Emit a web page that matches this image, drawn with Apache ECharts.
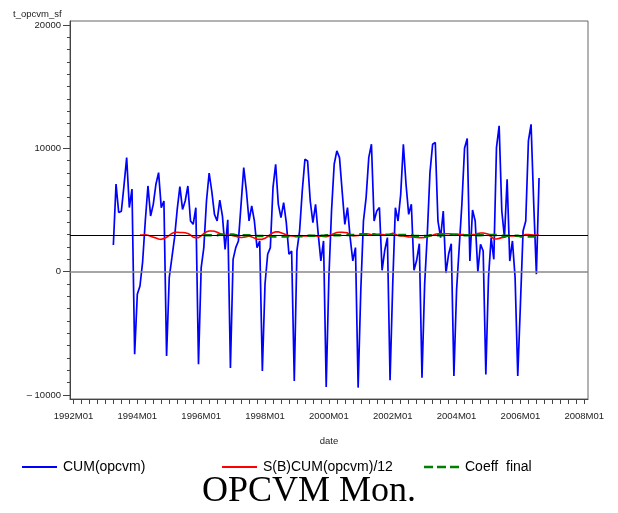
<!DOCTYPE html>
<html>
<head>
<meta charset="utf-8">
<script src="https://cdn.jsdelivr.net/npm/echarts@6/dist/echarts.min.js"></script>
<style>
html,body{margin:0;padding:0;background:#fff;}
#chart{width:618px;height:513px;}
</style>
</head>
<body>
<div id="chart"></div>
<script>
// ---- data (monthly) ----
const cumStart = '1993M04';
const cum1993 = [2160, 7100, 4800, 4900, 7000, 9250, 5200, 6700, -6700];
const cum1994 = [-1830, -1160, 800, 4110, 6950, 4510, 5460, 7090, 8030, 5190, 5730, -6830];
const cum1995 = [-490, 1130, 2760, 5050, 6900, 5050, 5730, 6950, 4110, 3840, 5190, -7510];
const cum1996 = [300, 1950, 5730, 8000, 6500, 4650, 4110, 5800, 4500, 1800, 4200, -7800];
const cum1997 = [1000, 1950, 2490, 5460, 8440, 6540, 4110, 5330, 4110, 1950, 2490, -8060];
const cum1998 = [-1000, 1410, 1950, 6810, 8710, 5460, 4380, 5600, 3980, 1410, 1680, -8860];
const cum1999 = [1700, 3300, 6540, 9110, 8980, 5730, 3980, 5460, 3030, 870, 2490, -9350];
const cum2000 = [-500, 4920, 8710, 9790, 9250, 6500, 3840, 5190, 2760, 870, 1950, -9400];
const cum2001 = [-1500, 4110, 6000, 9250, 10330, 4110, 4920, 5200, 110, 1730, 2760, -8810];
const cum2002 = [-1030, 5190, 4110, 6270, 10330, 7090, 4650, 5460, 110, 920, 2270, -8600];
const cum2003 = [-1030, 3030, 8030, 10330, 10470, 4110, 2760, 4920, -110, 1410, 2270, -8460];
const cum2004 = [-1500, 2000, 5500, 10000, 10800, 860, 5000, 4110, 0, 2220, 1680, -8330];
const cum2005 = [-480, 2760, 1000, 10060, 11820, 4920, 2760, 7490, 860, 2490, -480, -8460];
const cum2006 = [-2650, 3300, 4110, 10600, 11950, 5500, -200, 7600];

const sbStart = '1994M02';
const sbValues = [2970,2970,2990,2950,2880,2800,2730,2650,2620,2680,2790,2950,3100,3190,3200,3180,3170,3150,3100,2970,2800,2760,2760,2900,3080,3230,3300,3300,3280,3200,3100,3000,2950,2950,
2970,2920,2870,2800,2770,2790,2830,2890,2820,2720,2640,2620,2620,2700,2850,3030,3150,3230,3240,3160,3080,2990,2920,2890,2880,2900,2920,2900,2890,2900,2920,2900,2890,2880,2890,2850,2840,2900,3000,3100,3170,3190,3190,3180,3150,
2950,2920,2920,2930,2970,3030,3080,3050,3000,2970,2990,3020,3000,2980,2970,3030,3120,3030,2940,2900,2890,2860,2820,2810,2790,2770,2760,2760,2780,2830,2900,2960,3030,3080,3090,3080,3080,3070,3050,3030,3030,3030,3010,2990,2970,
2990,3000,3030,3100,3140,3140,3100,3030,2850,2650,2650,2700,2760,2800,2870,2900,2900,2900,2890,2860,2950,3010,3010,2990,2970,2960,2970];

const coeffStart = '1996M02';
const coeffValues = [2950,2950,2950,2950,2950,2950, 3010,3010,3010,3010,3010,3010, 2950,2950,2950,2950,2950,2950,
2900,2900,2900,2900,2900,2900,2900, 2850,2850,2850,2850,2850,2850,2850, 2870,2870,2870,2870,2870,2870,
2920,2920,2920,2920,2920,2920,2920,2920, 2960,2960,2960,2960,2960,2960, 2970,2970,2970,2970,2970,2970,
3030,3030,3030,3030,3030,3030,3030, 3000,3000,3000,3000,3000,3000,3000, 2970,2970,2970,2970,2970,2970,2970,
2890,2890,2890,2890,2890,2890, 2950,2950,2950,2950,2950,2950,2950, 3000,3000,3000,3000,3000,3000,
2950,2950,2950,2950,2950,2950,2950, 2970,2970,2970,2970,2970,2970,2970, 2920,2920,2920,2920,2920,2920,2920,
2860,2860,2860,2860,2860,2860,2860,2860];

const refLines = [0, 2980];
const xLabelMonths = ['1992M01','1994M01','1996M01','1998M01','2000M01','2002M01','2004M01','2006M01','2008M01'];
const yLabelValues = [-10000, 0, 10000, 20000];
const seriesNames = ['CUM(opcvm)', 'S(B)CUM(opcvm)/12', 'Coeff  final'];

// ---- helpers ----
function monthIndex(s) { const y = +s.slice(0,4), m = +s.slice(5); return (y - 1992) * 12 + (m - 1); }
function toPairs(start, vals) { const s = monthIndex(start); return vals.map((v, i) => [s + i, v]); }

const cumAll = [].concat(cum1993, cum1994, cum1995, cum1996, cum1997, cum1998, cum1999, cum2000, cum2001, cum2002, cum2003, cum2004, cum2005, cum2006);
const xLabelVals = xLabelMonths.map(monthIndex);
const xTickVals = [];
for (let m = xLabelVals[0]; m <= xLabelVals[xLabelVals.length - 1]; m += 3) xTickVals.push(m);
const yMinorTicks = [];
for (let v = -10000; v <= 20000; v += 1000) yMinorTicks.push(v);

const FONT = 'Liberation Sans';
const chart = echarts.init(document.getElementById('chart'), null, { renderer: 'canvas' });
const yMin = -10324, yMax = 20324;

const solidIcon = 'path://M0,0h35v2h-35z';
const dashIcon = 'path://M0,0h9v2.6h-9zM13,0h9v2.6h-9zM26,0h9v2.6h-9z';
function legendOpt(name, left, icon, h) {
  return { data: [{ name: name, icon: icon }], left: left, top: 455, itemWidth: 35, itemHeight: h,
    symbolKeepAspect: false, itemGap: 6,
    textStyle: { fontFamily: FONT, fontSize: 14, color: '#000', padding: [0, 0, 0, 1] } };
}

chart.setOption({
  animation: false,
  backgroundColor: '#fff',
  title: {
    text: 'OPCVM Mon.', left: 'center', top: 469,
    textStyle: { fontFamily: 'Liberation Serif', fontSize: 36, fontWeight: 'normal', color: '#000' }
  },
  graphic: [{ type: 'text', left: 13, top: 9, style: { text: 't_opcvm_sf', font: '9.5px "Liberation Sans"', fill: '#222' } }],
  legend: [
    legendOpt(seriesNames[0], 17, solidIcon, 2),
    legendOpt(seriesNames[1], 217, solidIcon, 2),
    legendOpt(seriesNames[2], 419, dashIcon, 2.6)
  ],
  grid: { left: 70, right: 30, top: 21, bottom: 114, show: true, borderColor: '#666', borderWidth: 1 },
  xAxis: {
    type: 'value', min: -1.3, max: 193.4,
    axisLine: { show: true, onZero: false, lineStyle: { color: '#444', width: 1 } },
    axisTick: { show: true, customValues: xTickVals, length: 5, lineStyle: { color: '#444' } },
    axisLabel: { customValues: xLabelVals, formatter: v => xLabelMonths[xLabelVals.indexOf(v)] || '', fontFamily: FONT, fontSize: 9.5, color: '#222', margin: 12 },
    splitLine: { show: false },
    name: 'date', nameLocation: 'middle', nameGap: 37,
    nameTextStyle: { fontFamily: FONT, fontSize: 9.5, color: '#222' }
  },
  yAxis: [
    {
      type: 'value', min: yMin, max: yMax, position: 'left',
      axisLine: { show: true, onZero: false, lineStyle: { color: '#444', width: 1 } },
      axisTick: { show: true, customValues: yLabelValues, length: 7, lineStyle: { color: '#444' } },
      axisLabel: { customValues: yLabelValues, formatter: v => v < 0 ? '\u2013 ' + Math.abs(v) : String(v), fontFamily: FONT, fontSize: 9.5, color: '#222', margin: 9 },
      splitLine: { show: false }
    },
    {
      type: 'value', min: yMin, max: yMax, position: 'left',
      axisLine: { show: false, onZero: false },
      axisTick: { show: true, customValues: yMinorTicks, length: 3, lineStyle: { color: '#444' } },
      axisLabel: { show: false },
      splitLine: { show: false }
    }
  ],
  series: [
    {
      name: seriesNames[0], type: 'line', data: toPairs(cumStart, cumAll), symbol: 'none',
      lineStyle: { color: '#0000ff', width: 1.7 }, itemStyle: { color: '#0000ff' }, z: 2,
      markLine: {
        silent: true, symbol: ['none', 'none'], label: { show: false },
        data: [
          { yAxis: refLines[0], lineStyle: { color: '#888', width: 1.5, type: 'solid' } },
          { yAxis: refLines[1], lineStyle: { color: '#000', width: 1, type: 'solid' } }
        ]
      }
    },
    {
      name: seriesNames[1], type: 'line', data: toPairs(sbStart, sbValues), symbol: 'none',
      lineStyle: { color: '#ff0000', width: 1.6 }, itemStyle: { color: '#ff0000' }, z: 3
    },
    {
      name: seriesNames[2], type: 'line', data: toPairs(coeffStart, coeffValues), symbol: 'none',
      lineStyle: { color: '#008000', width: 2.5, type: [8, 5] }, itemStyle: { color: '#008000' }, z: 4
    }
  ]
});
</script>
</body>
</html>
